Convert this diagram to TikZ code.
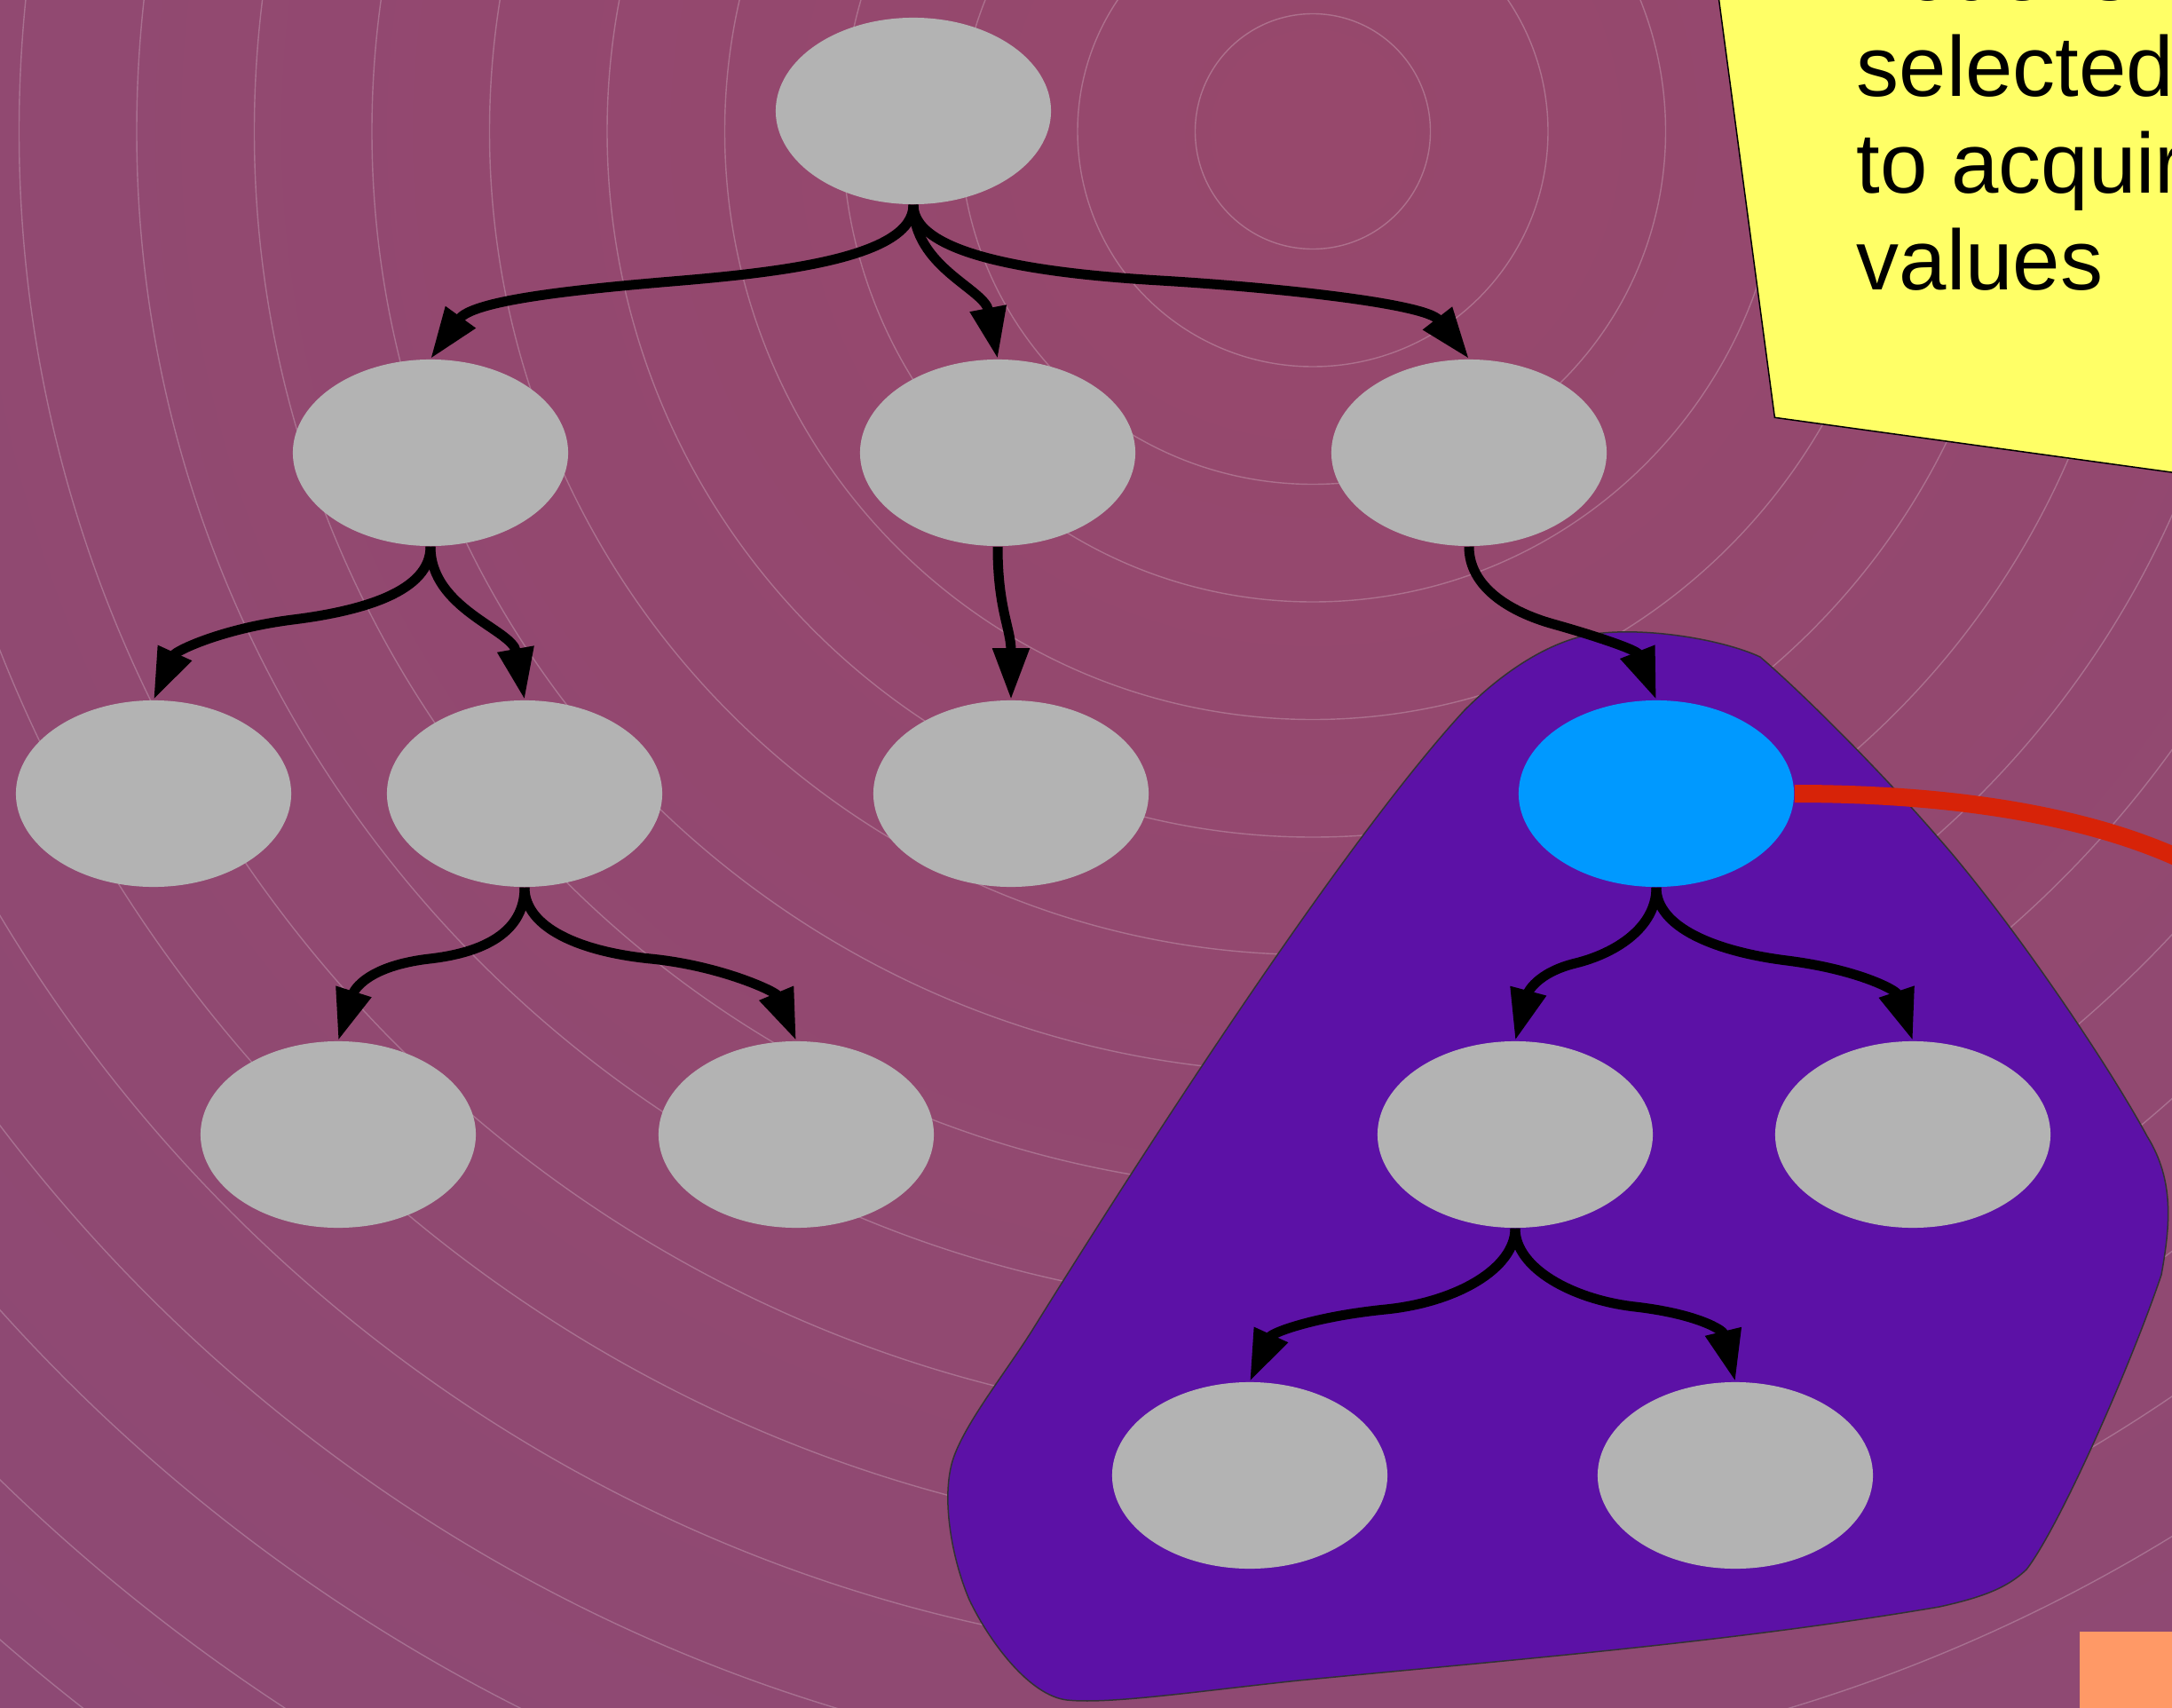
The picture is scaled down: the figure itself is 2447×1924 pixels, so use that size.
\documentclass[tikz,border=0pt]{standalone}
\usepackage{fontspec}
\setmainfont{Liberation Sans}
\usetikzlibrary{arrows.meta,shapes.geometric}

\definecolor{bgin}{RGB}{151,72,108}
\definecolor{bgout}{RGB}{131,74,124}
\definecolor{nodegray}{RGB}{179,179,179}
\definecolor{hiblue}{RGB}{0,153,255}
\definecolor{blobviolet}{RGB}{92,17,166}
\definecolor{noteyellow}{RGB}{255,255,102}
\definecolor{linkred}{RGB}{215,35,8}
\definecolor{tagorange}{RGB}{255,153,102}

\pgfdeclareradialshading{bgrad}{\pgfpoint{0bp}{0bp}}{color(0bp)=(bgin); color(50bp)=(bgout)}

\begin{document}
\begin{tikzpicture}[x=0.01cm,y=0.01cm,
  treenode/.style={ellipse, fill=nodegray, minimum width=3.1cm, minimum height=2.1cm, inner sep=0pt},
  chosen/.style={treenode, fill=hiblue},
  edge/.style={draw=black, line width=0.11cm, -{Triangle[length=0.58cm,width=0.39cm]}},
  ring/.style={draw=white, draw opacity=0.22, line width=0.4pt},
  notebox/.style={fill=noteyellow, draw=black, line width=0.015cm},
  blob/.style={fill=blobviolet, draw=black!80, line width=0.015cm},
  redlink/.style={draw=linkred, line width=0.2cm},
  notetext/.style={anchor=base west, inner sep=0pt, font=\fontsize{27.3pt}{31pt}\selectfont}
]
\useasboundingbox (0,0) rectangle (2447,-1924);
\begin{scope}
\clip (0,0) rectangle (2447,-1924);

% backdrop with concentric rings
\shade[shading=bgrad] (1479,-148) circle (2320);
\foreach \k in {1,...,18}
  \draw[ring] (1479,-148) circle ({132.5*\k});

% sticky note
\draw[notebox] (1935.3,10) -- (1999.4,-470.3) -- (2600,-553.2) -- (2600,10) -- cycle;
\node[notetext] (n0) at (2091,-0.4) {node is};
\node[notetext] (n1) at (2091,-108.9) {selected};
\node[notetext] (n2) at (2091,-217) {to acquire};
\node[notetext] (n3) at (2091,-326.2) {values};

% highlighted subtree region
\draw[blob] (1650,-800)
  .. controls (1690,-760) and (1740,-725) .. (1790,-715)
  .. controls (1850,-705) and (1940,-720) .. (1983,-740)
  .. controls (2030,-780) and (2120,-870) .. (2183,-943)
  .. controls (2260,-1030) and (2370,-1190) .. (2419,-1280)
  .. controls (2450,-1330) and (2445,-1380) .. (2435,-1436)
  .. controls (2400,-1540) and (2320,-1720) .. (2283,-1768)
  .. controls (2260,-1790) and (2230,-1800) .. (2185,-1810)
  .. controls (1950,-1850) and (1700,-1870) .. (1463,-1893)
  .. controls (1350,-1905) and (1250,-1920) .. (1202,-1915)
  .. controls (1160,-1910) and (1115,-1850) .. (1092,-1802)
  .. controls (1070,-1750) and (1060,-1680) .. (1075,-1640)
  .. controls (1090,-1600) and (1130,-1550) .. (1162,-1500)
  .. controls (1330,-1230) and (1530,-930) .. cycle;

% tree nodes
\node[treenode] (r)   at (1029,-125) {};
\node[treenode] (a)   at (485,-510) {};
\node[treenode] (b)   at (1124,-510) {};
\node[treenode] (c)   at (1655,-510) {};
\node[treenode] (a1)  at (173,-894) {};
\node[treenode] (a2)  at (591,-894) {};
\node[treenode] (b1)  at (1139,-894) {};
\node[chosen]   (s)   at (1866,-894) {};
\node[treenode] (a21) at (381,-1278) {};
\node[treenode] (a22) at (897,-1278) {};
\node[treenode] (s1)  at (1707,-1278) {};
\node[treenode] (s2)  at (2155,-1278) {};
\node[treenode] (s11) at (1408,-1662) {};
\node[treenode] (s12) at (1955,-1662) {};

% tree edges
\draw[edge] (r.south) .. controls +(0,-60) and +(120,10) .. (757,-317)
                      .. controls +(-120,-10) and +(47,65) .. (a.north);
\draw[edge] (r.south) .. controls +(0,-70) and +(-15,79) .. (b.north);
\draw[edge] (r.south) .. controls +(0,-60) and +(-120,7) .. (1307,-316)
                      .. controls +(120,-7) and +(-49,63) .. (c.north);
\draw[edge] (a.south) .. controls +(0,-50) and +(80,10) .. (330,-698)
                      .. controls +(-80,-10) and +(25,55) .. (a1.north);
\draw[edge] (a.south) .. controls +(0,-70) and +(-14,79) .. (a2.north);
\draw[edge] (b.south) .. controls +(0,-70) and +(0,80) .. (b1.north);
\draw[edge] (c.south) .. controls +(0,-45) and +(-50,14) .. (1750,-703)
                      .. controls +(50,-14) and +(-22,56) .. (s.north);
\draw[edge] (a2.south) .. controls +(0,-45) and +(70,8) .. (484,-1080)
                       .. controls +(-70,-8) and +(18,57) .. (a21.north);
\draw[edge] (a2.south) .. controls +(0,-45) and +(-80,8) .. (733,-1080)
                       .. controls +(80,-8) and +(-23,55) .. (a22.north);
\draw[edge] (s.south) .. controls +(0,-45) and +(45,11) .. (1775,-1085)
                      .. controls +(-45,-11) and +(14,53) .. (s1.north);
\draw[edge] (s.south) .. controls +(0,-45) and +(-80,10) .. (2013,-1082)
                      .. controls +(80,-10) and +(-19,57) .. (s2.north);
\draw[edge] (s1.south) .. controls +(0,-45) and +(80,8) .. (1561,-1475)
                       .. controls +(-80,-8) and +(25,55) .. (s11.north);
\draw[edge] (s1.south) .. controls +(0,-45) and +(-70,8) .. (1842,-1472)
                       .. controls +(70,-8) and +(-14,58) .. (s12.north);

% link leaving the selected node
\coordinate (redend) at (2500,-990);
\draw[redlink] (s.east) .. controls +(200,0) and +(-110,65) .. (redend);

% corner tag
\fill[tagorange] (2343,-1838) rectangle (2520,-2000);
\end{scope}
\end{tikzpicture}
\end{document}
